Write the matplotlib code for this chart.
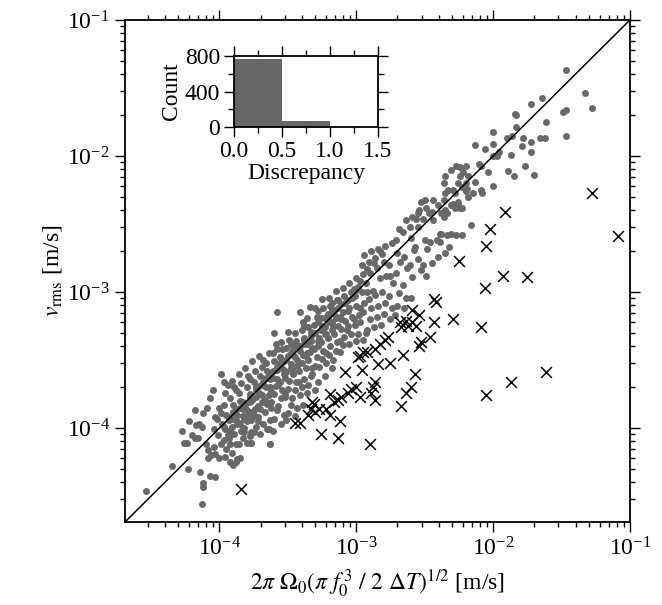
import numpy as np
import matplotlib
matplotlib.use("Agg")
import matplotlib.pyplot as plt
from matplotlib.ticker import LogLocator, NullFormatter, MultipleLocator, FixedLocator

# ---------------- data (log10 of the plotted values) ----------------
gray_pts = [
    # sparse lower-left
    (-4.54,-4.46),(-4.35,-4.28),(-4.26,-4.11),(-4.24,-4.11),(-4.23,-4.30),(-4.14,-4.32),(-4.12,-4.40),
    (-4.12,-4.43),(-4.13,-4.56),(-4.07,-4.35),(-4.03,-4.36),(-4.18,-3.87),(-4.07,-3.78),(-4.12,-3.89),
    (-4.15,-3.97),(-4.17,-3.98),(-4.18,-4.07),(-4.16,-4.07),(-4.13,-3.99),(-4.10,-4.12),(-4.08,-4.16),
    (-4.08,-4.22),(-4.06,-4.20),(-4.04,-4.14),(-4.03,-4.19),(-4.01,-4.05),(-4.04,-4.01),(-4.02,-3.93),
    (-4.00,-3.85),(-4.03,-3.92),(-3.99,-3.60),(-3.99,-4.12),(-4.00,-4.22),(-3.90,-4.27),(-3.88,-4.25),
    (-3.85,-4.22),(-3.77,-4.11),(-3.77,-4.03),(-3.63,-4.12),(-3.64,-4.01),(-3.58,-3.15),
    (-4.27,-4.02),(-4.22,-3.95),(-4.20,-4.05),(-4.09,-3.85),(-4.05,-3.72),(-3.97,-3.66),
    # dense band
    (-3.94,-3.68),(-3.96,-3.74),(-3.97,-3.83),(-3.99,-3.89),(-3.93,-3.94),(-3.96,-4.01),(-3.97,-4.09),
    (-3.95,-4.15),(-3.96,-4.21),(-3.92,-4.25),(-3.98,-3.97),(-3.94,-4.05),
    (-3.91,-3.65),(-3.89,-3.70),(-3.92,-3.78),(-3.90,-3.88),(-3.88,-3.94),(-3.91,-3.99),(-3.89,-4.04),
    (-3.88,-4.12),(-3.91,-4.18),(-3.87,-4.23),(-3.90,-3.83),
    (-3.86,-3.60),(-3.84,-3.67),(-3.86,-3.74),(-3.85,-3.85),(-3.83,-3.91),(-3.86,-3.96),(-3.84,-4.02),
    (-3.86,-4.12),(-3.85,-3.80),(-3.83,-4.07),
    (-3.81,-3.56),(-3.79,-3.62),(-3.80,-3.70),(-3.78,-3.77),(-3.81,-3.83),(-3.79,-3.90),(-3.80,-3.95),
    (-3.82,-4.00),(-3.78,-4.06),(-3.80,-4.11),
    (-3.76,-3.51),(-3.74,-3.58),(-3.75,-3.66),(-3.73,-3.72),(-3.76,-3.79),(-3.74,-3.86),(-3.75,-3.90),
    (-3.77,-3.94),(-3.75,-4.03),(-3.77,-4.11),(-3.73,-3.99),
    (-3.71,-3.47),(-3.69,-3.55),(-3.70,-3.62),(-3.68,-3.68),(-3.71,-3.74),(-3.69,-3.81),(-3.70,-3.86),
    (-3.72,-3.92),(-3.68,-3.97),(-3.70,-4.04),
    (-3.64,-3.45),(-3.66,-3.52),(-3.65,-3.58),(-3.63,-3.64),(-3.66,-3.70),(-3.64,-3.76),(-3.65,-3.82),
    (-3.67,-3.88),(-3.63,-3.94),(-3.65,-4.01),(-3.63,-4.12),
    (-3.60,-3.30),(-3.59,-3.38),(-3.61,-3.45),(-3.60,-3.51),(-3.58,-3.57),(-3.61,-3.63),(-3.59,-3.69),
    (-3.60,-3.75),(-3.62,-3.81),(-3.58,-3.87),(-3.60,-3.93),(-3.61,-4.02),
    (-3.55,-3.37),(-3.54,-3.42),(-3.56,-3.48),(-3.55,-3.54),(-3.53,-3.60),(-3.56,-3.66),(-3.54,-3.72),
    (-3.55,-3.78),(-3.57,-3.84),(-3.53,-3.90),(-3.55,-3.97),
    (-3.50,-3.29),(-3.49,-3.35),(-3.51,-3.41),(-3.50,-3.47),(-3.48,-3.53),(-3.51,-3.59),(-3.49,-3.65),
    (-3.50,-3.71),(-3.52,-3.77),(-3.48,-3.83),(-3.50,-3.89),(-3.51,-3.94),
    (-3.45,-3.30),(-3.44,-3.36),(-3.46,-3.42),(-3.45,-3.48),(-3.43,-3.54),(-3.46,-3.60),(-3.44,-3.66),
    (-3.45,-3.72),(-3.47,-3.78),(-3.43,-3.85),(-3.45,-3.91),
    (-3.41,-3.15),(-3.39,-3.22),(-3.40,-3.28),(-3.38,-3.34),(-3.41,-3.40),(-3.39,-3.46),(-3.40,-3.52),
    (-3.42,-3.58),(-3.38,-3.64),(-3.40,-3.70),(-3.41,-3.76),(-3.39,-3.83),
    (-3.34,-3.11),(-3.36,-3.19),(-3.35,-3.26),(-3.33,-3.32),(-3.36,-3.38),(-3.34,-3.44),(-3.35,-3.50),
    (-3.37,-3.56),(-3.33,-3.62),(-3.35,-3.68),(-3.36,-3.74),
    (-3.30,-3.12),(-3.29,-3.18),(-3.31,-3.24),(-3.30,-3.30),(-3.28,-3.36),(-3.31,-3.42),(-3.29,-3.48),
    (-3.30,-3.54),(-3.32,-3.60),(-3.28,-3.66),(-3.30,-3.72),
    (-3.25,-3.05),(-3.24,-3.12),(-3.26,-3.19),(-3.25,-3.25),(-3.23,-3.31),(-3.26,-3.37),(-3.24,-3.43),
    (-3.25,-3.49),(-3.27,-3.55),(-3.23,-3.62),
    (-3.20,-3.04),(-3.19,-3.10),(-3.21,-3.16),(-3.20,-3.22),(-3.18,-3.28),(-3.21,-3.34),(-3.19,-3.40),
    (-3.20,-3.46),(-3.22,-3.52),(-3.18,-3.56),
    (-3.15,-2.99),(-3.14,-3.06),(-3.16,-3.13),(-3.15,-3.19),(-3.13,-3.25),(-3.16,-3.31),(-3.14,-3.37),
    (-3.15,-3.43),(-3.17,-3.50),
    (-3.10,-2.97),(-3.09,-3.03),(-3.11,-3.09),(-3.10,-3.15),(-3.08,-3.21),(-3.11,-3.27),(-3.09,-3.33),
    (-3.10,-3.39),(-3.12,-3.44),
    (-3.05,-2.93),(-3.04,-3.00),(-3.06,-3.06),(-3.05,-3.12),(-3.03,-3.18),(-3.06,-3.25),(-3.04,-3.31),
    (-3.05,-3.38),
    (-3.00,-2.90),(-2.99,-2.96),(-3.01,-3.03),(-3.00,-3.10),(-2.98,-3.17),(-3.01,-3.24),(-2.99,-3.31),
    (-3.00,-3.36),
    (-3.93,-3.92),(-3.92,-4.02),(-3.88,-3.86),(-3.87,-3.97),(-3.83,-3.81),(-3.82,-3.93),(-3.78,-3.75),
    (-3.77,-3.88),(-3.73,-3.70),(-3.72,-3.84),(-3.68,-3.66),(-3.67,-3.79),(-3.63,-3.61),(-3.62,-3.73),
    (-3.58,-3.55),(-3.57,-3.68),(-3.53,-3.51),(-3.52,-3.63),(-3.48,-3.45),(-3.47,-3.57),(-3.43,-3.40),
    (-3.42,-3.52),(-3.38,-3.35),(-3.37,-3.47),(-3.33,-3.29),(-3.32,-3.41),(-3.28,-3.22),(-3.27,-3.34),
    (-3.23,-3.19),(-3.22,-3.31),(-3.18,-3.13),(-3.17,-3.25),(-3.13,-3.06),(-3.12,-3.18),
    (-3.88,-3.72),(-3.78,-3.64),(-3.68,-3.50),(-3.58,-3.42),(-3.48,-3.38),(-3.38,-3.25),(-3.28,-3.14),
    (-3.18,-3.08),(-3.92,-4.12),(-3.82,-4.03),(-3.72,-3.95),(-3.62,-3.85),(-3.52,-3.75),(-3.42,-3.66),
    (-3.32,-3.56),(-3.22,-3.45),(-3.12,-3.36),(-3.02,-2.98),(-2.97,-2.92),(-2.92,-2.83),(-2.87,-2.79),
    (-2.83,-2.70),(-3.07,-3.28),(-3.02,-3.20),(-2.97,-3.12),(-2.92,-3.00),
    (-3.97,-3.99),(-3.95,-3.90),(-3.93,-4.07),(-3.90,-3.93),(-3.87,-3.90),(-3.85,-3.97),(-3.83,-3.86),
    (-3.80,-3.87),(-3.78,-3.81),(-3.76,-3.92),(-3.73,-3.77),(-3.71,-3.69),(-3.69,-3.76),(-3.66,-3.63),
    (-3.63,-3.70),(-3.61,-3.58),(-3.58,-3.64),(-3.56,-3.52),(-3.53,-3.57),(-3.51,-3.50),(-3.48,-3.56),
    (-3.46,-3.46),(-3.43,-3.50),(-3.41,-3.43),(-3.38,-3.38),(-3.36,-3.45),(-3.33,-3.36),(-3.31,-3.30),
    (-3.28,-3.40),(-3.26,-3.28),(-3.23,-3.26),(-3.21,-3.19),(-3.18,-3.22),(-3.16,-3.16),(-3.13,-3.12),
    (-3.11,-3.20),(-3.08,-3.08),(-3.06,-3.14),(-3.03,-3.04),(-3.01,-2.99),
    # medium band
    (-2.94,-2.73),(-2.96,-2.80),(-2.95,-2.87),(-2.93,-2.93),(-2.96,-3.00),(-2.94,-3.08),(-2.95,-3.15),
    (-2.97,-3.22),(-2.93,-3.30),(-2.95,-3.35),
    (-2.89,-2.70),(-2.91,-2.78),(-2.90,-2.86),(-2.88,-2.99),(-2.91,-3.05),(-2.89,-3.12),(-2.90,-3.20),
    (-2.92,-3.28),
    (-2.84,-2.68),(-2.86,-2.75),(-2.85,-2.82),(-2.83,-2.90),(-2.86,-3.02),(-2.84,-3.10),(-2.85,-3.18),
    (-2.87,-3.26),
    (-2.79,-2.66),(-2.81,-2.72),(-2.80,-2.78),(-2.78,-2.88),(-2.81,-3.00),(-2.79,-3.08),(-2.80,-3.16),
    (-2.82,-3.24),
    (-2.74,-2.64),(-2.76,-2.80),(-2.75,-2.88),(-2.73,-2.93),(-2.76,-3.03),(-2.74,-3.12),(-2.75,-3.20),
    (-2.69,-2.54),(-2.71,-2.62),(-2.70,-2.71),(-2.68,-2.78),(-2.71,-2.86),(-2.69,-3.01),(-2.70,-3.10),
    (-2.72,-3.17),
    (-2.64,-2.47),(-2.66,-2.56),(-2.65,-2.74),(-2.63,-2.82),(-2.66,-2.95),(-2.64,-3.04),(-2.65,-3.12),
    (-2.59,-2.45),(-2.61,-2.52),(-2.60,-2.60),(-2.58,-2.69),(-2.61,-2.80),(-2.59,-2.89),(-2.60,-3.04),
    (-2.54,-2.40),(-2.56,-2.46),(-2.55,-2.52),(-2.57,-2.67),(-2.55,-2.76),(-2.53,-2.84),
    (-2.49,-2.38),(-2.51,-2.46),(-2.50,-2.62),(-2.48,-2.68),(-2.51,-2.80),(-2.49,-2.88),
    (-2.44,-2.47),(-2.46,-2.63),(-2.45,-2.79),
    (-2.39,-2.57),(-2.41,-2.62),(-2.40,-2.74),
    # cluster near 5e-3
    (-2.20,-2.07),(-2.24,-2.08),(-2.27,-2.07),(-2.31,-2.10),(-2.22,-2.12),(-2.24,-2.15),(-2.18,-2.15),
    (-2.20,-2.20),(-2.26,-2.20),(-2.23,-2.23),(-2.29,-2.25),(-2.35,-2.15),(-2.36,-2.20),(-2.33,-2.25),
    (-2.35,-2.27),(-2.28,-2.27),(-2.20,-2.26),(-2.18,-2.30),(-2.26,-2.34),(-2.28,-2.38),(-2.24,-2.38),
    (-2.31,-2.36),(-2.36,-2.32),(-2.40,-2.36),(-2.44,-2.32),(-2.50,-2.32),(-2.53,-2.34),(-2.55,-2.42),
    (-2.45,-2.41),(-2.38,-2.42),(-2.47,-2.42),
    (-2.29,-2.35),(-2.26,-2.36),(-2.23,-2.38),(-2.35,-2.40),(-2.36,-2.45),(-2.34,-2.42),
    (-2.38,-2.57),(-2.34,-2.58),(-2.31,-2.57),(-2.27,-2.58),(-2.23,-2.58),(-2.39,-2.63),
    (-2.35,-2.71),(-2.32,-2.67),(-2.16,-2.51),
    # sparse upper right
    (-1.47,-1.37),(-1.33,-1.54),(-1.28,-1.65),(-1.47,-1.85),(-1.49,-1.68),(-1.47,-1.66),(-1.64,-1.57),
    (-1.72,-1.62),(-1.61,-1.75),(-1.66,-1.87),(-1.62,-1.87),(-1.84,-1.69),(-1.83,-1.70),(-1.83,-1.79),
    (-1.90,-1.87),(-1.86,-1.85),(-1.78,-1.87),(-1.72,-1.90),(-1.79,-1.93),(-1.72,-1.97),(-1.87,-1.99),
    (-2.00,-1.82),(-2.00,-1.91),(-2.13,-1.92),(-2.06,-1.95),(-1.96,-1.97),(-2.00,-2.00),(-1.97,-2.00),
    (-1.77,-2.07),(-1.70,-2.14),(-1.89,-2.11),(-1.85,-2.15),(-2.00,-2.22),(-2.04,-2.12),(-2.10,-2.06),
    (-2.09,-2.07),(-2.13,-2.19),(-2.09,-2.25),(-2.08,-2.27),(-2.15,-2.27),(-2.19,-2.24),
]

cross_pts = [
    (-1.28,-2.27),(-1.09,-2.59),(-1.91,-2.41),(-2.02,-2.54),(-2.05,-2.66),(-2.25,-2.77),(-1.93,-2.88),
    (-1.75,-2.89),(-2.06,-2.97),(-2.42,-3.07),(-2.43,-3.05),(-2.59,-3.13),(-2.54,-3.17),(-2.43,-3.22),
    (-2.29,-3.20),(-2.09,-3.26),(-2.68,-3.22),(-2.64,-3.21),(-2.62,-3.25),(-2.67,-3.26),(-2.59,-3.22),
    (-2.56,-3.25),(-2.46,-3.33),(-2.53,-3.37),(-2.54,-3.40),(-2.77,-3.33),(-2.79,-3.35),(-2.83,-3.38),
    (-2.86,-3.42),(-2.92,-3.44),(-2.97,-3.47),(-2.99,-3.48),(-2.95,-3.44),(-2.66,-3.46),(-2.75,-3.52),
    (-2.84,-3.53),(-2.96,-3.57),(-3.08,-3.59),(-2.57,-3.60),(-2.86,-3.66),(-2.88,-3.70),(-2.60,-3.70),
    (-2.64,-3.74),(-2.89,-3.74),(-2.86,-3.79),(-2.67,-3.84),(-2.97,-3.77),(-3.00,-3.70),(-3.04,-3.71),
    (-3.06,-3.74),(-3.11,-3.77),(-3.13,-3.79),(-3.19,-3.75),(-3.16,-3.81),(-3.32,-3.81),(-3.33,-3.86),
    (-3.30,-3.88),(-3.22,-3.86),(-3.19,-3.90),(-3.35,-3.90),(-3.41,-3.96),(-3.45,-3.96),(-3.12,-3.95),
    (-3.26,-4.04),(-3.13,-4.07),(-2.90,-4.12),(-3.84,-4.45),(-2.05,-3.76),(-1.87,-3.66),(-1.61,-3.59),
    (-3.31,-3.82),(-3.27,-3.86),
]

hist_edges = [0.0, 0.5, 1.0, 1.5]
hist_counts = [770, 68, 0]

axis_lim = (10 ** -4.69, 1e-1)

# ---------------- figure ----------------
plt.rcParams['font.family'] = ['Liberation Serif', 'DejaVu Serif']
plt.rcParams['mathtext.fontset'] = 'stix'
FS = 17

gray = np.array(gray_pts)
cross = np.array(cross_pts)
gx, gy = 10 ** gray[:, 0], 10 ** gray[:, 1]
cx, cy = 10 ** cross[:, 0], 10 ** cross[:, 1]

fig = plt.figure(figsize=(6.62, 6.05), dpi=100)
ax = fig.add_axes([0.1888, 0.1372, 0.7628, 0.8298])
ax.set_xscale('log')
ax.set_yscale('log')
ax.set_xlim(axis_lim)
ax.set_ylim(axis_lim)

ax.scatter(gx, gy, s=25, color='#686868', linewidths=0, zorder=2)
ax.axline((1e-3, 1e-3), (1e-2, 1e-2), color='black', lw=1.1, zorder=3)
ax.scatter(cx, cy, s=60, marker='x', color='black', linewidths=1.1, zorder=4)

for sp in ax.spines.values():
    sp.set_linewidth(1.3)
ax.tick_params(which='both', direction='out', top=True, right=True, labelsize=FS, width=1.0)
ax.tick_params(which='major', length=7, pad=4)
ax.tick_params(which='minor', length=3.5)
ax.xaxis.set_major_locator(LogLocator(base=10, numticks=10))
ax.yaxis.set_major_locator(LogLocator(base=10, numticks=10))
ax.xaxis.set_minor_locator(LogLocator(base=10, subs=np.arange(2, 10), numticks=20))
ax.yaxis.set_minor_locator(LogLocator(base=10, subs=np.arange(2, 10), numticks=20))
ax.xaxis.set_minor_formatter(NullFormatter())
ax.yaxis.set_minor_formatter(NullFormatter())

ax.set_xlabel(r'$2\pi\ \Omega_0(\pi\ f_0^{\,3}\ /\ 2\ \Delta T)^{1/2}$ [m/s]', fontsize=FS, labelpad=5)
ax.set_ylabel(r'$v_{\mathrm{rms}}$ [m/s]', fontsize=FS, labelpad=2)

# ---------------- inset histogram ----------------
ai = fig.add_axes([0.3535, 0.790, 0.2175, 0.1174])
ai.bar(hist_edges[:-1], hist_counts, width=np.diff(hist_edges), align='edge',
       color='#666666', linewidth=0)
ai.set_xlim(0, 1.5)
ai.set_ylim(0, 800)
ai.xaxis.set_major_locator(FixedLocator([0.0, 0.5, 1.0, 1.5]))
ai.xaxis.set_minor_locator(MultipleLocator(0.25))
ai.yaxis.set_major_locator(FixedLocator([0, 400, 800]))
ai.yaxis.set_minor_locator(MultipleLocator(200))
ai.set_xticklabels(['0.0', '0.5', '1.0', '1.5'])
for sp in ai.spines.values():
    sp.set_linewidth(1.3)
ai.tick_params(which='both', direction='out', top=True, right=True, labelsize=FS, width=1.0)
ai.tick_params(which='major', length=7, pad=3)
ai.tick_params(which='minor', length=4)
ai.set_xlabel('Discrepancy', fontsize=FS, labelpad=1)
ai.set_ylabel('Count', fontsize=FS, labelpad=2)

fig.savefig('out.png', dpi=100)
